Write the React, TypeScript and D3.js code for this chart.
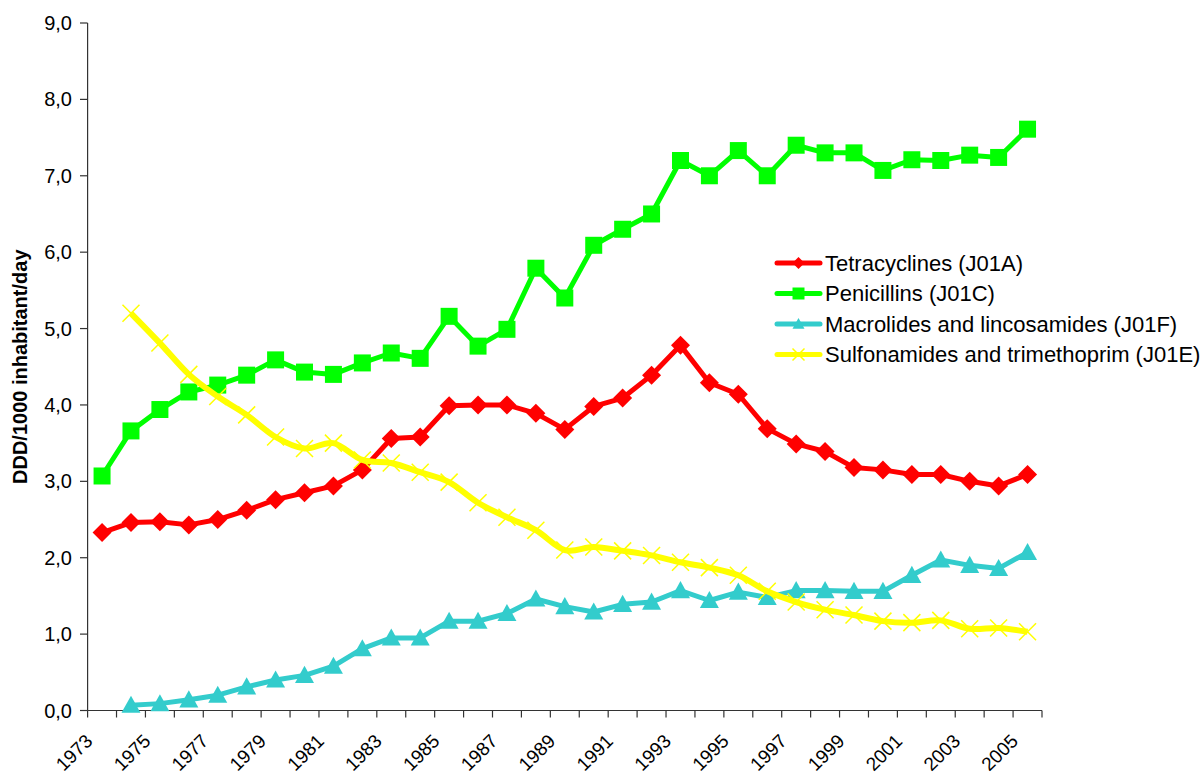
import React, { useEffect, useRef } from "react";
import * as d3 from "d3";

const years: number[] = [
  1973, 1974, 1975, 1976, 1977, 1978, 1979, 1980, 1981, 1982, 1983, 1984, 1985, 1986, 1987, 1988, 1989,
  1990, 1991, 1992, 1993, 1994, 1995, 1996, 1997, 1998, 1999, 2000, 2001, 2002, 2003, 2004, 2005,
];

const tetracyclines: (number | null)[] = [
  2.33, 2.46, 2.47, 2.43, 2.5, 2.62, 2.76, 2.85, 2.94, 3.15, 3.56, 3.58, 3.99, 4.0, 4.0, 3.89, 3.68,
  3.98, 4.09, 4.39, 4.78, 4.29, 4.14, 3.69, 3.49, 3.39, 3.18, 3.15, 3.09, 3.09, 3.0, 2.94, 3.09,
];

const penicillins: (number | null)[] = [
  3.07, 3.66, 3.94, 4.17, 4.26, 4.39, 4.59, 4.43, 4.4, 4.55, 4.68, 4.61, 5.16, 4.77, 4.99, 5.79, 5.4,
  6.09, 6.3, 6.5, 7.2, 7.0, 7.33, 7.0, 7.4, 7.3, 7.3, 7.07, 7.21, 7.2, 7.27, 7.24, 7.61,
];

const macrolides: (number | null)[] = [
  null, 0.07, 0.09, 0.14, 0.2, 0.31, 0.4, 0.46, 0.58, 0.81, 0.95, 0.95, 1.17, 1.17, 1.27, 1.46, 1.36,
  1.29, 1.39, 1.42, 1.57, 1.44, 1.55, 1.48, 1.57, 1.57, 1.56, 1.56, 1.77, 1.97, 1.9, 1.86, 2.07,
];

const sulfonamides: (number | null)[] = [
  null, 5.2, 4.81, 4.4, 4.11, 3.87, 3.58, 3.43, 3.5, 3.28, 3.24, 3.12, 2.99, 2.72, 2.53, 2.36, 2.1,
  2.14, 2.09, 2.03, 1.94, 1.87, 1.77, 1.56, 1.42, 1.32, 1.25, 1.17, 1.15, 1.18, 1.07, 1.08, 1.03,
];

const seriesNames: string[] = [
  "Tetracyclines (J01A)",
  "Penicillins (J01C)",
  "Macrolides and lincosamides (J01F)",
  "Sulfonamides and trimethoprim (J01E)",
];
const seriesColors: string[] = ["#FF0000", "#00FF00", "#33CCCC", "#FFFF00"];
const seriesMarkers: string[] = ["diamond", "square", "triangle", "x"];
const seriesSmooth: boolean[] = [false, false, false, true];
const seriesValues = [tetracyclines, penicillins, macrolides, sulfonamides];

const yTicks: number[] = [0, 1, 2, 3, 4, 5, 6, 7, 8, 9];
const yTitle = "DDD/1000 inhabitant/day";

const W = 1200;
const H = 778;
const FONT = "Liberation Sans, Arial, sans-serif";

function markerPath(type: string, s: number): string {
  const h = s / 2;
  if (type === "diamond") return `M0,${-h}L${h},0L0,${h}L${-h},0Z`;
  if (type === "square") return `M${-h},${-h}H${h}V${h}H${-h}Z`;
  if (type === "triangle") return `M0,${-h}L${h},${h * 0.8}L${-h},${h * 0.8}Z`;
  return `M${-h},${-h}L${h},${h}M${h},${-h}L${-h},${h}`;
}

export default function App() {
  const ref = useRef<SVGSVGElement>(null);

  useEffect(() => {
    const svg = d3.select(ref.current);
    svg.selectAll("*").remove();

    const x = d3.scaleBand<number>().domain(years).range([87.6, 1042]).padding(0);
    const y = d3.scaleLinear().domain([0, 9]).range([710.5, 23]);
    const cx = (yr: number) => (x(yr) as number) + x.bandwidth() / 2;

    const axisColor = "#333333";

    // Y axis
    svg.append("line")
      .attr("x1", 87.6).attr("x2", 87.6)
      .attr("y1", y(9)).attr("y2", y(0))
      .attr("stroke", axisColor).attr("stroke-width", 1.2);
    const yt = svg.append("g");
    yTicks.forEach((t) => {
      yt.append("line")
        .attr("x1", 80).attr("x2", 87.6)
        .attr("y1", y(t)).attr("y2", y(t))
        .attr("stroke", axisColor).attr("stroke-width", 1.2);
      yt.append("text")
        .attr("x", 72).attr("y", y(t))
        .attr("dy", "0.35em")
        .attr("text-anchor", "end")
        .attr("font-family", FONT)
        .attr("font-size", 20)
        .attr("fill", "#000")
        .text(d3.format(".1f")(t).replace(".", ","));
    });

    // Y title
    svg.append("text")
      .attr("transform", `translate(27,${y(4.5)}) rotate(-90)`)
      .attr("text-anchor", "middle")
      .attr("font-family", FONT)
      .attr("font-size", 20)
      .attr("font-weight", "bold")
      .attr("fill", "#000")
      .text(yTitle);

    // X axis
    svg.append("line")
      .attr("x1", 87.6).attr("x2", 1042)
      .attr("y1", y(0)).attr("y2", y(0))
      .attr("stroke", axisColor).attr("stroke-width", 1.2);
    const boundaries = years.map((yr) => x(yr) as number).concat([1042]);
    boundaries.forEach((bx) => {
      svg.append("line")
        .attr("x1", bx).attr("x2", bx)
        .attr("y1", y(0)).attr("y2", y(0) + 7)
        .attr("stroke", axisColor).attr("stroke-width", 1.2);
    });
    years.forEach((yr, i) => {
      if (i % 2 !== 0) return;
      svg.append("text")
        .attr("transform", `translate(${cx(yr) - 13},${y(0) + 27}) rotate(-45)`)
        .attr("text-anchor", "end")
        .attr("dy", "0.35em")
        .attr("font-family", FONT)
        .attr("font-size", 19)
        .attr("fill", "#000")
        .text(String(yr));
    });

    // Series
    seriesValues.forEach((vals, si) => {
      const pts = years
        .map((yr, i) => ({ yr, v: vals[i] }))
        .filter((p) => p.v !== null) as { yr: number; v: number }[];
      const line = d3.line<{ yr: number; v: number }>()
        .x((p) => cx(p.yr))
        .y((p) => y(p.v))
        .curve(seriesSmooth[si] ? d3.curveCardinal.tension(0) : d3.curveLinear);
      svg.append("path")
        .attr("d", line(pts) as string)
        .attr("fill", "none")
        .attr("stroke", seriesColors[si])
        .attr("stroke-width", seriesSmooth[si] ? 6 : 5)
        .attr("stroke-linejoin", "round");
      const type = seriesMarkers[si];
      const size = type === "x" ? 17 : type === "triangle" ? 19 : type === "diamond" ? 19 : 17;
      pts.forEach((p) => {
        const m = svg.append("path")
          .attr("transform", `translate(${cx(p.yr)},${y(p.v)})`)
          .attr("d", markerPath(type, size));
        if (type === "x") {
          m.attr("fill", "none").attr("stroke", seriesColors[si]).attr("stroke-width", 1.5);
        } else {
          m.attr("fill", seriesColors[si]).attr("stroke", "none");
        }
      });
    });

    // Legend
    const lg = svg.append("g");
    seriesNames.forEach((name, si) => {
      const ly = 263 + si * 30.5;
      lg.append("line")
        .attr("x1", 777).attr("x2", 820)
        .attr("y1", ly).attr("y2", ly)
        .attr("stroke", seriesColors[si])
        .attr("stroke-width", 5)
        .attr("stroke-linecap", "round");
      const type = seriesMarkers[si];
      const m = lg.append("path")
        .attr("transform", `translate(798.5,${ly})`)
        .attr("d", markerPath(type, 12));
      if (type === "x") {
        m.attr("fill", "none").attr("stroke", seriesColors[si]).attr("stroke-width", 1.5);
      } else {
        m.attr("fill", seriesColors[si]);
      }
      lg.append("text")
        .attr("x", 825).attr("y", ly)
        .attr("dy", "0.35em")
        .attr("font-family", FONT)
        .attr("font-size", 22)
        .attr("fill", "#000")
        .text(name);
    });
  }, []);

  return (
    <svg
      ref={ref}
      width={W}
      height={H}
      style={{ position: "absolute", left: 0, top: 0, background: "#fff" }}
    />
  );
}
